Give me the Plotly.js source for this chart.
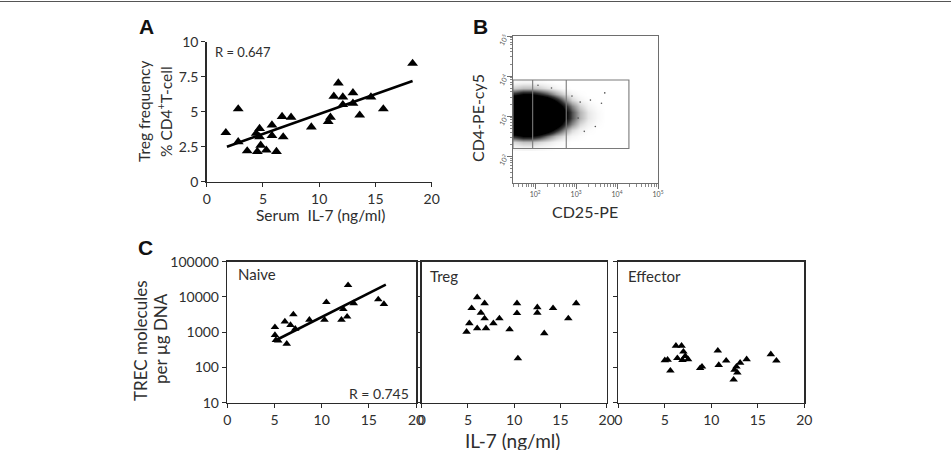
<!DOCTYPE html>
<html>
<head>
<meta charset="utf-8">
<script src="https://cdn.plot.ly/plotly-3.0.1.min.js"></script>
<style>
  html, body { margin: 0; padding: 0; background: #fff; }
  #fig { width: 951px; height: 450px; }
</style>
</head>
<body>
<div id="fig"></div>
<script>
// ---------- Panel A: serum IL-7 vs Treg frequency ----------
const serumIL7 = [1.7, 2.8, 2.8, 3.6, 4.4, 4.5, 4.7, 4.7, 4.8, 5.3, 5.8, 5.8, 6.2, 6.7, 6.8, 7.5,
                  9.3, 10.8, 11.0, 11.3, 11.7, 12.1, 12.1, 13.0, 13.0, 13.6, 14.6, 15.7, 18.3];
const tregFreq = [3.5, 5.2, 2.85, 2.2, 3.45, 2.15, 3.8, 3.2, 2.6, 2.25, 4.05, 3.3, 2.15, 4.65, 3.2, 4.6,
                  3.9, 4.3, 4.6, 6.1, 7.05, 6.05, 5.5, 6.35, 5.6, 4.75, 6.05, 5.2, 8.45];
const fitAx = [1.8, 18.3];
const fitAy = [2.5, 7.2];
const ticksA_y = [0, 2.5, 5, 7.5, 10];
const ticksA_yText = ['0', '2.5', '5', '7.5', '10'];
const ticks_x = [0, 5, 10, 15, 20];

// ---------- Panel B: CD25-PE vs CD4-PE-cy5 (log10 units) ----------
const cd25Grid = [1.5, 1.7, 1.9, 2.1, 2.3, 2.5, 2.7, 2.9, 3.1, 3.3, 3.5, 3.7];
const cd4Grid  = [2.2, 2.35, 2.5, 2.65, 2.8, 2.95, 3.1, 3.25, 3.4, 3.55, 3.7, 3.85];
const eventDensity = [
  [0.02, 0.03, 0.03, 0.02, 0.01, 0,    0,    0,    0,    0,    0,    0],
  [0.1,  0.14, 0.14, 0.1,  0.07, 0.03, 0.01, 0,    0,    0,    0,    0],
  [0.45, 0.55, 0.55, 0.45, 0.3,  0.16, 0.08, 0.03, 0.01, 0,    0,    0],
  [0.9,  0.95, 0.95, 0.9,  0.72, 0.45, 0.25, 0.1,  0.04, 0.01, 0,    0],
  [1,    1,    1,    1,    0.95, 0.75, 0.45, 0.25, 0.1,  0.04, 0.01, 0],
  [1,    1,    1,    1,    1,    0.85, 0.6,  0.35, 0.17, 0.07, 0.02, 0],
  [1,    1,    1,    1,    1,    0.9,  0.62, 0.35, 0.17, 0.07, 0.02, 0],
  [1,    1,    1,    1,    0.95, 0.75, 0.48, 0.26, 0.11, 0.04, 0.01, 0],
  [0.9,  0.95, 0.95, 0.9,  0.75, 0.5,  0.28, 0.11, 0.04, 0.01, 0,    0],
  [0.45, 0.55, 0.55, 0.45, 0.35, 0.2,  0.1,  0.04, 0.01, 0,    0,    0],
  [0.12, 0.15, 0.15, 0.12, 0.08, 0.04, 0.01, 0,    0,    0,    0,    0],
  [0.02, 0.03, 0.03, 0.02, 0.01, 0,    0,    0,    0,    0,    0,    0]
];
const strayCD25 = [2.07, 3.62, 3.7, 3.47, 3.35, 3.05, 3.2, 2.9, 3.1, 2.4];
const strayCD4  = [3.77, 3.32, 3.58, 2.74, 3.4, 2.95, 2.62, 3.5, 3.35, 3.7];
const gateCD25 = [1.46, 1.94, 2.76, 4.29];
const gateCD4  = [2.19, 3.9];
const facsRangeX = [1.46, 5];
const facsRangeY = [1.33, 5];
const facsDecades = [2, 3, 4, 5];
const facsDecadeText = ['10<sup>2</sup>', '10<sup>3</sup>', '10<sup>4</sup>', '10<sup>5</sup>'];

// ---------- Panel C: TREC content by subset ----------
const naiveIL7  = [12.8, 10.5, 16.0, 16.6, 13.4, 12.3, 12.7, 12.1, 10.3, 8.7, 7.0, 6.1, 6.7, 7.2,
                   5.05, 5.05, 5.15, 5.4, 6.3];
const naiveTREC = [21500, 7100, 8500, 6300, 6600, 4500, 2750, 2250, 2250, 2250, 3200, 2000, 1600, 1250,
                   1390, 830, 600, 580, 470];
const naiveFitX = [5.3, 16.8];
const naiveFitY = [620, 22500];

const tregIL7  = [6.0, 5.4, 6.8, 6.4, 6.8, 5.15, 4.85, 6.0, 6.95, 7.75, 8.4, 9.5, 10.3, 10.3, 10.4,
                  12.5, 12.5, 13.25, 14.2, 15.85, 16.7];
const tregTREC = [9800, 4800, 6600, 3550, 2450, 1780, 1030, 1290, 1290, 1780, 2450, 1200, 6600, 3450, 180,
                  5100, 3550, 930, 4800, 2450, 6600];

const effIL7  = [5.0, 5.3, 5.6, 6.2, 6.8, 6.35, 7.0, 7.2, 6.9, 7.5, 8.8, 9.0, 10.7, 10.8, 11.6,
                 12.5, 12.7, 12.8, 13.1, 13.8, 12.4, 16.4, 17.0];
const effTREC = [160, 165, 81, 410, 410, 183, 280, 210, 162, 170, 95, 105, 300, 117, 155,
                 85, 105, 71, 135, 170, 45, 235, 155];
const trecTicks = [10, 100, 1000, 10000, 100000];
const trecTickText = ['10', '100', '1000', '10000', '100000'];

// ---------- geometry helpers (canvas is 951 x 450, zero margins) ----------
const W = 951, H = 450;
const px = v => v / W;
const py = v => 1 - v / H;
const xdom = (a, b) => [a / W, b / W];
const ydom = (top, bottom) => [1 - bottom / H, 1 - top / H];

const FONT = 'Lato, "Open Sans", sans-serif';
const TXT = '#2e2e2e';
const AX = '#2a2a2a';

const markA = { symbol: 'triangle-up', size: 9.5, color: '#000' };
const markC = { symbol: 'triangle-up', size: 7.5, color: '#000' };

const traces = [
  // A
  { x: serumIL7, y: tregFreq, type: 'scatter', mode: 'markers', marker: markA, xaxis: 'x', yaxis: 'y' },
  { x: fitAx, y: fitAy, type: 'scatter', mode: 'lines', line: { color: '#000', width: 2.6 }, xaxis: 'x', yaxis: 'y' },
  // B
  { x: cd25Grid, y: cd4Grid, z: eventDensity, type: 'heatmap', zsmooth: 'best', zmin: 0, zmax: 1,
    showscale: false, hoverinfo: 'skip',
    colorscale: [[0, 'rgba(0,0,0,0)'], [0.06, 'rgba(0,0,0,0.08)'], [0.2, 'rgba(0,0,0,0.35)'],
                 [0.4, 'rgba(0,0,0,0.8)'], [0.55, 'rgba(0,0,0,1)'], [1, 'rgba(0,0,0,1)']],
    xaxis: 'x2', yaxis: 'y2' },
  { x: strayCD25, y: strayCD4, type: 'scatter', mode: 'markers',
    marker: { size: 1.6, color: '#555' }, xaxis: 'x2', yaxis: 'y2' },
  // gate outline and split lines
  { x: [gateCD25[0], gateCD25[3], gateCD25[3], gateCD25[0], gateCD25[0]],
    y: [gateCD4[0], gateCD4[0], gateCD4[1], gateCD4[1], gateCD4[0]],
    type: 'scatter', mode: 'lines', line: { color: '#7a7a7a', width: 1.1 }, xaxis: 'x2', yaxis: 'y2' },
  { x: [gateCD25[1], gateCD25[1], null, gateCD25[2], gateCD25[2]],
    y: [gateCD4[0], gateCD4[1], null, gateCD4[0], gateCD4[1]],
    type: 'scatter', mode: 'lines', line: { color: '#7a7a7a', width: 1.1 }, xaxis: 'x2', yaxis: 'y2' },
  // C
  { x: naiveIL7, y: naiveTREC, type: 'scatter', mode: 'markers', marker: markC, xaxis: 'x3', yaxis: 'y3' },
  { x: naiveFitX, y: naiveFitY, type: 'scatter', mode: 'lines', line: { color: '#000', width: 2.6 }, xaxis: 'x3', yaxis: 'y3' },
  { x: tregIL7, y: tregTREC, type: 'scatter', mode: 'markers', marker: markC, xaxis: 'x4', yaxis: 'y4' },
  { x: effIL7, y: effTREC, type: 'scatter', mode: 'markers', marker: markC, xaxis: 'x5', yaxis: 'y5' }
];

// minor ticks for the cytometry decades
const minorLog = [];
for (let d = 1; d < 5; d++) for (let k = 2; k <= 9; k++) minorLog.push(d + Math.log10(k));

const tickFont = { family: FONT, size: 14, color: TXT };
const baseAx = {
  showgrid: false, zeroline: false, showline: true, linecolor: AX, linewidth: 1.5,
  ticks: 'outside', ticklen: 4, tickwidth: 1, tickcolor: AX, tickfont: tickFont, fixedrange: true
};
const facsAx = {
  showgrid: false, zeroline: false, showline: true, mirror: true, linecolor: '#6e6e6e', linewidth: 1,
  ticks: 'outside', ticklen: 5, tickwidth: 1, tickcolor: '#6e6e6e',
  tickmode: 'array', tickvals: facsDecades, ticktext: facsDecadeText,
  tickfont: { family: FONT, size: 7, color: '#555' },
  minor: { tickmode: 'array', tickvals: minorLog, ticks: 'outside', ticklen: 2.5, tickcolor: '#888', tickwidth: 1 }
};
const trecY = (dom, labels) => Object.assign({}, baseAx, {
  domain: dom, type: 'log', range: [1, 5], tickmode: 'array', tickvals: trecTicks, ticktext: trecTickText,
  showticklabels: labels, mirror: true
});
const cX = dom => Object.assign({}, baseAx, {
  domain: dom, range: [0, 20], tickmode: 'array', tickvals: ticks_x, mirror: true
});

const yC = ydom(261.7, 402.7);

const layout = {
  width: W, height: H,
  margin: { l: 0, r: 0, t: 0, b: 0 },
  paper_bgcolor: '#fff', plot_bgcolor: 'rgba(0,0,0,0)',
  showlegend: false,
  font: { family: FONT, color: TXT },
  xaxis: Object.assign({}, baseAx, { domain: xdom(206.7, 431.7), range: [0, 20], tickmode: 'array', tickvals: ticks_x, anchor: 'y' }),
  yaxis: Object.assign({}, baseAx, { domain: ydom(41.7, 181.7), range: [0, 10], tickmode: 'array', tickvals: ticksA_y, ticktext: ticksA_yText, anchor: 'x' }),
  xaxis2: Object.assign({}, facsAx, { domain: xdom(513, 658), range: facsRangeX, anchor: 'y2' }),
  yaxis2: Object.assign({}, facsAx, { domain: ydom(36, 183), range: facsRangeY, anchor: 'x2', tickangle: -60 }),
  xaxis3: Object.assign(cX(xdom(227.3, 416)), { anchor: 'y3' }),
  yaxis3: Object.assign(trecY(yC, true), { anchor: 'x3' }),
  xaxis4: Object.assign(cX(xdom(421.7, 606.7)), { anchor: 'y4' }),
  yaxis4: Object.assign(trecY(yC, false), { anchor: 'x4' }),
  xaxis5: Object.assign(cX(xdom(618.3, 804.3)), { anchor: 'y5' }),
  yaxis5: Object.assign(trecY(yC, false), { anchor: 'x5' }),
  shapes: [
    { type: 'line', xref: 'paper', yref: 'paper', x0: 0, x1: 1, y0: py(1.5), y1: py(1.5),
      line: { color: '#555', width: 1.2 } }
  ],
  annotations: []
};

function label(text, x, y, opts) {
  layout.annotations.push(Object.assign({
    text: text, x: px(x), y: py(y), xref: 'paper', yref: 'paper', showarrow: false,
    xanchor: 'center', yanchor: 'middle', font: { family: FONT, size: 15, color: TXT }
  }, opts || {}));
}
const bold = { family: '"Liberation Sans", Arial, sans-serif', size: 21, color: '#111' };
label('<b>A</b>', 146.5, 26, { font: bold });
label('<b>B</b>', 480, 26, { font: bold });
label('<b>C</b>', 145, 247, { font: bold });

label('R = 0.647', 213, 52, { xanchor: 'left', font: { family: FONT, size: 13, color: TXT } });
label('Treg frequency', 144, 112, { textangle: -90, font: { family: FONT, size: 15.5, color: TXT } });
label('% CD4<sup>+</sup>T-cell', 164, 112, { textangle: -90, font: { family: FONT, size: 15.5, color: TXT } });
label('Serum\u00a0 IL-7 (ng/ml)', 320, 215, { font: { family: FONT, size: 15.5, color: TXT } });

label('CD4-PE-cy5', 477, 118, { textangle: -90, font: { family: FONT, size: 16, color: TXT } });
label('CD25-PE', 585, 212, { font: { family: FONT, size: 16, color: TXT } });

label('Naive', 236, 274, { xanchor: 'left', font: { family: FONT, size: 15, color: TXT } });
label('Treg', 428, 276, { xanchor: 'left', font: { family: FONT, size: 15, color: TXT } });
label('Effector', 626, 276, { xanchor: 'left', font: { family: FONT, size: 15, color: TXT } });
label('R = 0.745', 411, 393, { xanchor: 'right', font: { family: FONT, size: 14, color: TXT } });
label('TREC molecules', 140, 341, { textangle: -90, font: { family: FONT, size: 17, color: TXT } });
label('per \u00b5g DNA', 160, 339, { textangle: -90, font: { family: FONT, size: 17, color: TXT } });
label('IL-7 (ng/ml)', 512, 440, { font: { family: FONT, size: 19, color: TXT } });

Plotly.newPlot('fig', traces, layout, { staticPlot: true });
</script>
</body>
</html>
